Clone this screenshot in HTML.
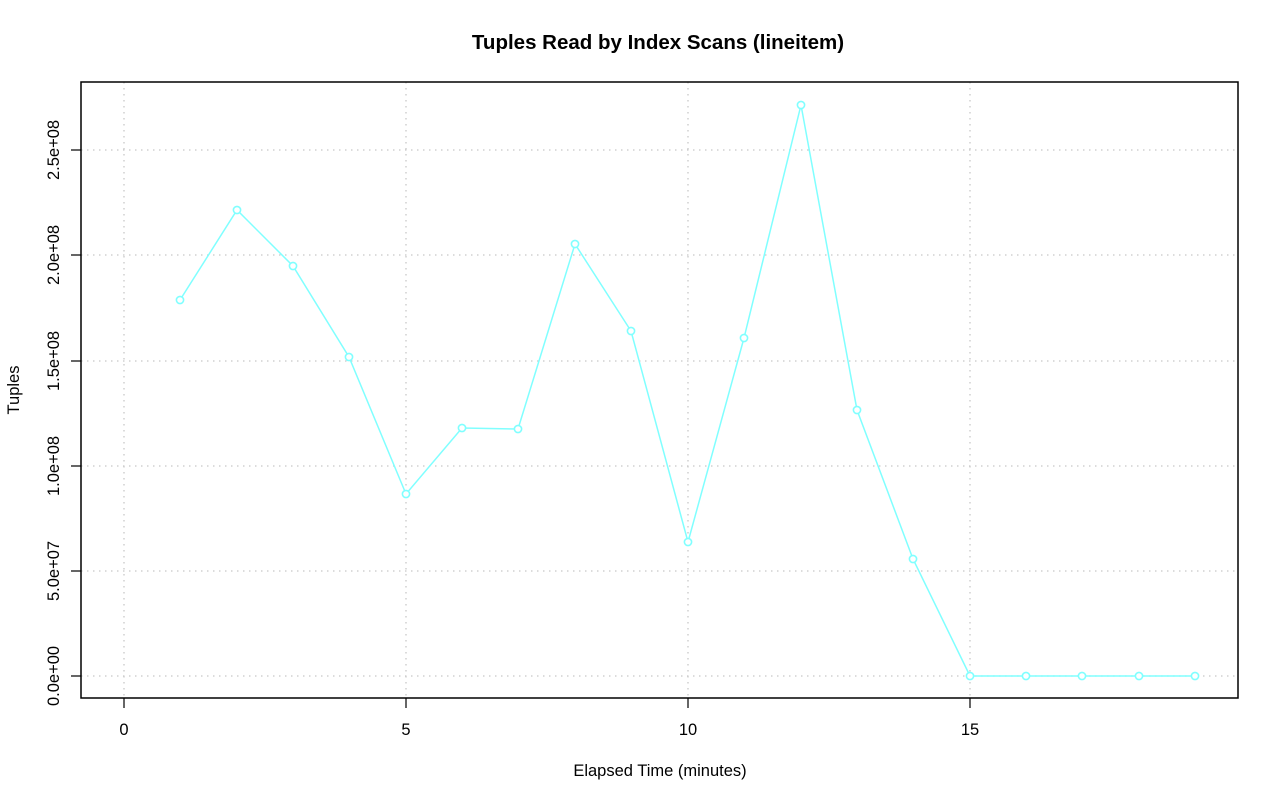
<!DOCTYPE html>
<html><head><style>body{margin:0;background:#fff}svg{display:block}</style></head><body>
<svg width="1280" height="801" xmlns="http://www.w3.org/2000/svg" font-family="Liberation Sans, Arial, sans-serif">
<rect width="1280" height="801" fill="#fff"/>
<g stroke="#c8c8c8" stroke-width="1.3" stroke-dasharray="1.5,4.5">
<line x1="124" y1="82" x2="124" y2="698"/><line x1="406" y1="82" x2="406" y2="698"/><line x1="688" y1="82" x2="688" y2="698"/><line x1="970" y1="82" x2="970" y2="698"/>
<line x1="81" y1="676" x2="1238" y2="676"/><line x1="81" y1="571" x2="1238" y2="571"/><line x1="81" y1="466" x2="1238" y2="466"/><line x1="81" y1="361" x2="1238" y2="361"/><line x1="81" y1="255" x2="1238" y2="255"/><line x1="81" y1="150" x2="1238" y2="150"/>
</g>
<polyline fill="none" stroke="#80ffff" stroke-width="1.5" points="180,300 237,210 293,266 349,357 406,494 462,428 518,429 575,244 631,331 688,542 744,338 801,105 857,410 913,559 970,676 1026,676 1082,676 1139,676 1195,676"/>
<g fill="#fff" stroke="#80ffff" stroke-width="1.6">
<circle cx="180" cy="300" r="3.6"/><circle cx="237" cy="210" r="3.6"/><circle cx="293" cy="266" r="3.6"/><circle cx="349" cy="357" r="3.6"/><circle cx="406" cy="494" r="3.6"/><circle cx="462" cy="428" r="3.6"/><circle cx="518" cy="429" r="3.6"/><circle cx="575" cy="244" r="3.6"/><circle cx="631" cy="331" r="3.6"/><circle cx="688" cy="542" r="3.6"/><circle cx="744" cy="338" r="3.6"/><circle cx="801" cy="105" r="3.6"/><circle cx="857" cy="410" r="3.6"/><circle cx="913" cy="559" r="3.6"/><circle cx="970" cy="676" r="3.6"/><circle cx="1026" cy="676" r="3.6"/><circle cx="1082" cy="676" r="3.6"/><circle cx="1139" cy="676" r="3.6"/><circle cx="1195" cy="676" r="3.6"/>
</g>
<rect x="81" y="82" width="1157" height="616" fill="none" stroke="#000" stroke-width="1.5"/>
<g stroke="#000" stroke-width="1.2">
<line x1="124" y1="698" x2="124" y2="708"/><line x1="406" y1="698" x2="406" y2="708"/><line x1="688" y1="698" x2="688" y2="708"/><line x1="970" y1="698" x2="970" y2="708"/>
<line x1="71" y1="676" x2="81" y2="676"/><line x1="71" y1="571" x2="81" y2="571"/><line x1="71" y1="466" x2="81" y2="466"/><line x1="71" y1="361" x2="81" y2="361"/><line x1="71" y1="255" x2="81" y2="255"/><line x1="71" y1="150" x2="81" y2="150"/>
</g>
<g font-size="16.5" text-anchor="middle" fill="#000">
<text x="124" y="735">0</text><text x="406" y="735">5</text><text x="688" y="735">10</text><text x="970" y="735">15</text>
<text transform="translate(59,676) rotate(-90)">0.0e+00</text>
<text transform="translate(59,571) rotate(-90)">5.0e+07</text>
<text transform="translate(59,466) rotate(-90)">1.0e+08</text>
<text transform="translate(59,361) rotate(-90)">1.5e+08</text>
<text transform="translate(59,255) rotate(-90)">2.0e+08</text>
<text transform="translate(59,150) rotate(-90)">2.5e+08</text>
<text x="660" y="776">Elapsed Time (minutes)</text>
<text transform="translate(19,390) rotate(-90)">Tuples</text>
<text x="658" y="49" font-size="20.5" font-weight="bold">Tuples Read by Index Scans (lineitem)</text>
</g>
</svg>
</body></html>
